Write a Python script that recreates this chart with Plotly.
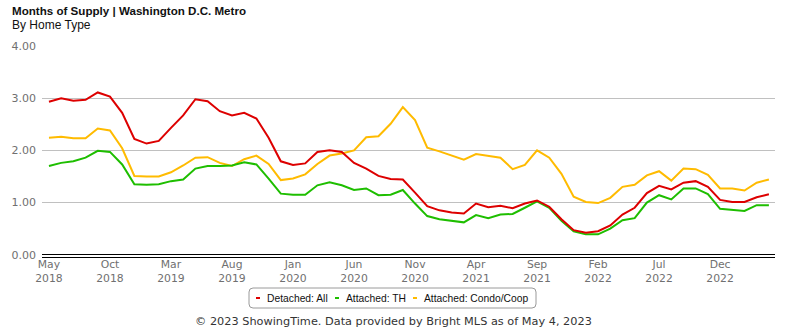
import plotly.graph_objects as go
import pandas as pd

# ---- data ----
months = [d.strftime("%Y-%m") for d in pd.date_range("2018-05-01", "2023-04-01", freq="MS")]
tick_idx = list(range(0, 60, 5))
tick_labels = [pd.Timestamp(months[i] + "-01").strftime("%b<br>%Y") for i in tick_idx]

detached_all = [2.93, 3.00, 2.95, 2.97, 3.11, 3.03, 2.72, 2.22, 2.13, 2.18,
                2.43, 2.67, 2.98, 2.94, 2.75, 2.67, 2.72, 2.61, 2.24, 1.79,
                1.72, 1.75, 1.97, 2.00, 1.97, 1.76, 1.65, 1.51, 1.45, 1.44,
                1.19, 0.93, 0.85, 0.81, 0.79, 0.98, 0.91, 0.94, 0.89, 0.98,
                1.04, 0.92, 0.68, 0.47, 0.42, 0.45, 0.56, 0.77, 0.90, 1.18,
                1.32, 1.25, 1.38, 1.41, 1.30, 1.05, 1.01, 1.01, 1.10, 1.16]
attached_th = [1.70, 1.76, 1.79, 1.86, 1.99, 1.97, 1.73, 1.35, 1.34, 1.35,
               1.41, 1.44, 1.65, 1.70, 1.70, 1.71, 1.77, 1.73, 1.46, 1.17,
               1.15, 1.15, 1.33, 1.39, 1.33, 1.24, 1.27, 1.14, 1.15, 1.24,
               0.98, 0.74, 0.68, 0.65, 0.62, 0.76, 0.70, 0.77, 0.78, 0.90,
               1.02, 0.90, 0.65, 0.45, 0.39, 0.39, 0.50, 0.66, 0.70, 1.00,
               1.14, 1.06, 1.27, 1.27, 1.16, 0.88, 0.86, 0.84, 0.95, 0.95]
attached_condo = [2.24, 2.26, 2.23, 2.23, 2.42, 2.38, 2.04, 1.51, 1.50, 1.50,
                  1.58, 1.71, 1.86, 1.87, 1.76, 1.70, 1.83, 1.90, 1.74, 1.43,
                  1.46, 1.54, 1.74, 1.90, 1.94, 2.00, 2.25, 2.27, 2.51, 2.83,
                  2.58, 2.05, 1.98, 1.90, 1.82, 1.93, 1.90, 1.86, 1.64, 1.72,
                  2.00, 1.86, 1.55, 1.11, 1.01, 0.99, 1.09, 1.30, 1.34, 1.52,
                  1.60, 1.42, 1.65, 1.64, 1.53, 1.27, 1.27, 1.23, 1.38, 1.44]

series_names = ["Detached: All", "Attached: TH", "Attached: Condo/Coop"]
series_values = [detached_all, attached_th, attached_condo]
series_colors = ["#dd0000", "#1ebe00", "#ffbb00"]

# ---- layout geometry (pixels) ----
W, H = 785, 330
ML, MR, MT, MB = 42, 10, 46, 73
PW, PH = W - ML - MR, H - MT - MB


def px(x):
    return (x - ML) / PW


def py(y):
    return (H - MB - y) / PH


fig = go.Figure()
# draw in order so red is on top
for name, vals, col in list(zip(series_names, series_values, series_colors))[::-1]:
    fig.add_trace(go.Scatter(x=months, y=vals, mode="lines", name=name,
                             line=dict(color=col, width=2), showlegend=False,
                             hovertemplate="%{x}: %{y:.2f}<extra>" + name + "</extra>"))

tickfont = dict(family="DejaVu Sans", size=11, color="#707070")
xtickfont = dict(family="DejaVu Sans", size=10.8, color="#707070")

fig.update_layout(
    width=W, height=H,
    margin=dict(l=ML, r=MR, t=MT, b=MB, pad=0),
    paper_bgcolor="white", plot_bgcolor="white",
    showlegend=False,
    xaxis=dict(type="category", range=[-0.57, 59.5],
               tickmode="array", tickvals=[months[i] for i in tick_idx], ticktext=tick_labels,
               showgrid=False, zeroline=False, showline=True, linecolor="#000000", linewidth=1,
               ticks="", tickfont=xtickfont, tickangle=0, ticklabelstandoff=-3),
    yaxis=dict(range=[-0.044, 4.0], tickmode="array", tickvals=[0, 1, 2, 3, 4],
               tickformat=".2f", showgrid=True, gridcolor="#c0c0c0", gridwidth=1,
               zeroline=True, zerolinecolor="#000000", zerolinewidth=1,
               showline=False, ticks="", tickfont=tickfont, ticklabelstandoff=5),
)

ann = []
ann.append(dict(text="<b>Months of Supply | Washington D.C. Metro</b>", x=px(10), y=py(10),
                xref="paper", yref="paper", xanchor="left", yanchor="middle", showarrow=False,
                font=dict(family="Liberation Sans", size=11.6, color="#111111")))
ann.append(dict(text="By Home Type", x=px(10), y=py(25),
                xref="paper", yref="paper", xanchor="left", yanchor="middle", showarrow=False,
                font=dict(family="Liberation Sans", size=12, color="#111111")))
ann.append(dict(text="© 2023 ShowingTime. Data provided by Bright MLS as of May 4, 2023",
                x=px(393), y=py(321), xref="paper", yref="paper", xanchor="center", yanchor="middle",
                showarrow=False, font=dict(family="DejaVu Sans", size=11.3, color="#333333")))

shapes = []
# legend box with rounded corners
x0, x1, y0, y1, r = 249, 536, 288, 308, 4
path = (f"M {px(x0 + r)},{py(y0)} L {px(x1 - r)},{py(y0)} "
        f"Q {px(x1)},{py(y0)} {px(x1)},{py(y0 + r)} L {px(x1)},{py(y1 - r)} "
        f"Q {px(x1)},{py(y1)} {px(x1 - r)},{py(y1)} L {px(x0 + r)},{py(y1)} "
        f"Q {px(x0)},{py(y1)} {px(x0)},{py(y1 - r)} L {px(x0)},{py(y0 + r)} "
        f"Q {px(x0)},{py(y0)} {px(x0 + r)},{py(y0)} Z")
shapes.append(dict(type="path", path=path, xref="paper", yref="paper",
                   line=dict(color="#9a9a9a", width=1), fillcolor="white"))
dash_x = [256, 335, 413]
text_x = [265, 344, 422]
for name, col, dx, tx in zip(series_names, series_colors, dash_x, text_x):
    shapes.append(dict(type="line", xref="paper", yref="paper", x0=px(dx), x1=px(dx + 4),
                       y0=py(298), y1=py(298), line=dict(color=col, width=2)))
    ann.append(dict(text=name, x=px(tx), y=py(298), xref="paper", yref="paper",
                    xanchor="left", yanchor="middle", showarrow=False,
                    font=dict(family="Liberation Sans", size=10.3, color="#111111")))

fig.update_layout(annotations=ann, shapes=shapes)
fig.write_html("out.html")
